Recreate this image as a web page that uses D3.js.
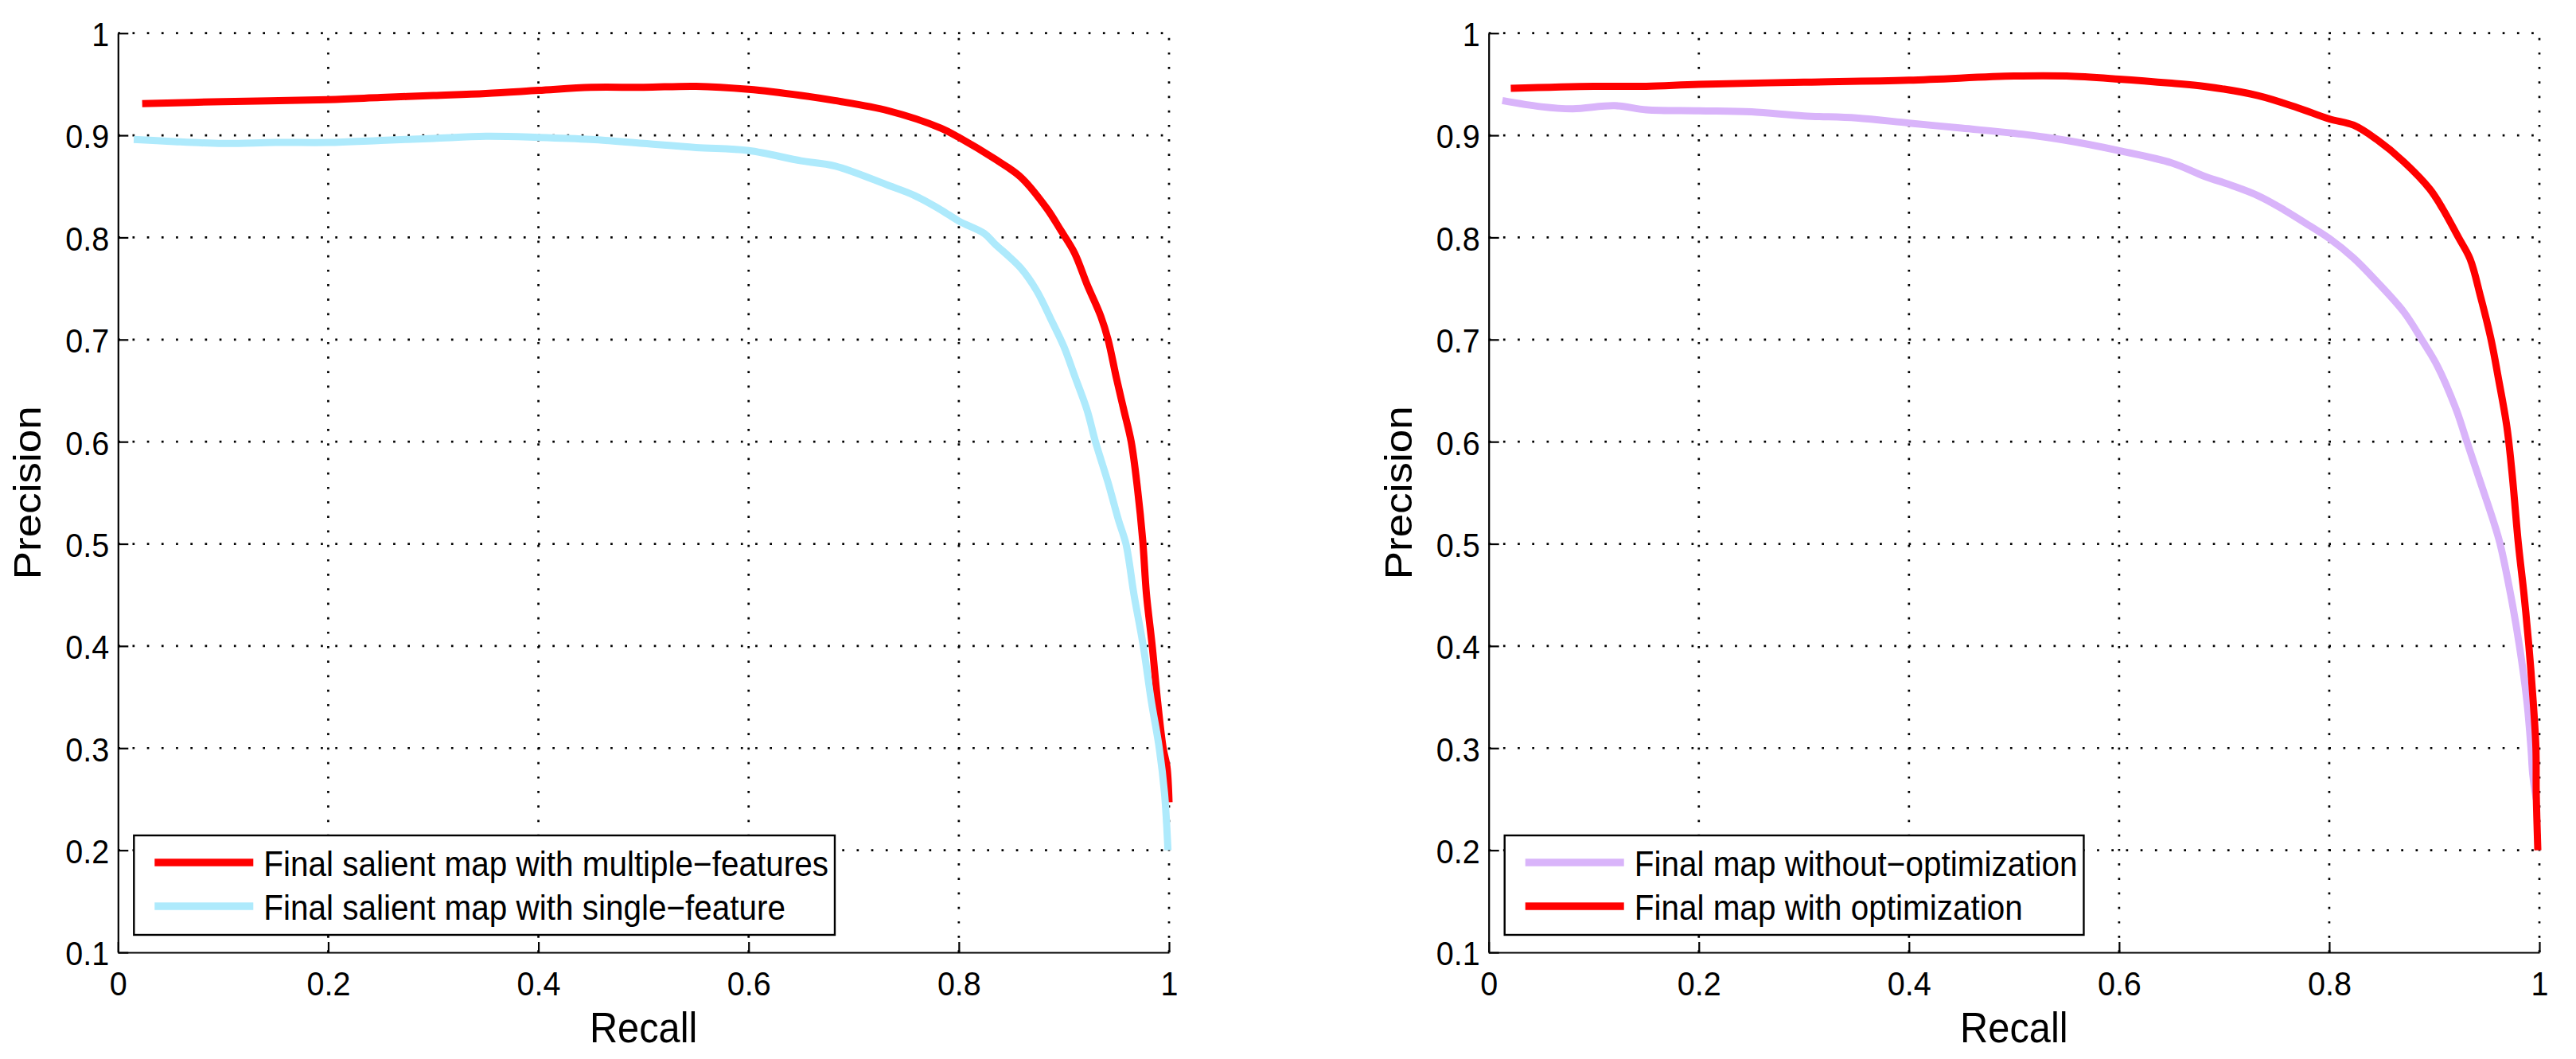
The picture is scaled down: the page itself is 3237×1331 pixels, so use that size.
<!DOCTYPE html>
<html>
<head>
<meta charset="utf-8">
<script src="https://cdn.jsdelivr.net/npm/d3@7"></script>
<style>
  html, body { margin: 0; padding: 0; background: #fff; }
  svg { display: block; }
  text { font-family: "Liberation Sans", Arial, Helvetica, sans-serif; fill: #000; }
</style>
</head>
<body>
<div id="chart"></div>
<script>
// tick values
const recallTicks = [0, 0.2, 0.4, 0.6, 0.8, 1];
const precisionTicks = [0.1, 0.2, 0.3, 0.4, 0.5, 0.6, 0.7, 0.8, 0.9, 1];

// left panel: multiple-features vs single-feature
const multiRecall = [0.023, 0.1, 0.2, 0.25, 0.3, 0.35, 0.4, 0.45, 0.5, 0.55, 0.6, 0.65, 0.682, 0.733, 0.783, 0.8, 0.834, 0.859, 0.884, 0.897, 0.91, 0.922, 0.935, 0.942, 0.95, 0.957, 0.964, 0.97, 0.975, 0.9785, 0.984, 0.989, 0.9944, 0.998, 1.0];
const multiPrecision = [0.931, 0.933, 0.935, 0.937, 0.939, 0.941, 0.944, 0.947, 0.947, 0.948, 0.945, 0.939, 0.934, 0.924, 0.907, 0.898, 0.877, 0.859, 0.828, 0.807, 0.785, 0.754, 0.723, 0.7, 0.662, 0.631, 0.6, 0.554, 0.503, 0.451, 0.4, 0.347, 0.3, 0.282, 0.247];

const singleRecall = [0.015, 0.05, 0.1, 0.15, 0.2, 0.25, 0.3, 0.35, 0.4, 0.45, 0.5, 0.55, 0.6, 0.65, 0.682, 0.733, 0.758, 0.783, 0.8, 0.824, 0.834, 0.859, 0.874, 0.889, 0.9, 0.91, 0.922, 0.93, 0.942, 0.952, 0.959, 0.9667, 0.9755, 0.983, 0.9907, 0.9957, 0.999];
const singlePrecision = [0.896, 0.894, 0.892, 0.893, 0.893, 0.895, 0.897, 0.899, 0.898, 0.896, 0.892, 0.888, 0.885, 0.875, 0.87, 0.851, 0.841, 0.827, 0.816, 0.804, 0.794, 0.77, 0.748, 0.717, 0.693, 0.665, 0.631, 0.6, 0.56, 0.523, 0.5, 0.45, 0.4, 0.347, 0.3, 0.256, 0.2];

// right panel: without vs with optimization
const noOptRecall = [0.013, 0.05, 0.08, 0.12, 0.15, 0.2, 0.25, 0.3, 0.35, 0.4, 0.45, 0.5, 0.55, 0.6, 0.65, 0.681, 0.707, 0.732, 0.757, 0.782, 0.8, 0.823, 0.845, 0.871, 0.888, 0.903, 0.921, 0.931, 0.944, 0.956, 0.9626, 0.9727, 0.981, 0.988, 0.992, 0.9937, 0.997];
const noOptPrecision = [0.934, 0.928, 0.926, 0.929, 0.925, 0.924, 0.923, 0.919, 0.917, 0.912, 0.907, 0.902, 0.895, 0.885, 0.873, 0.86, 0.851, 0.841, 0.827, 0.811, 0.799, 0.78, 0.757, 0.727, 0.7, 0.674, 0.631, 0.6, 0.56, 0.523, 0.5, 0.45, 0.4, 0.347, 0.3, 0.274, 0.25];

const optRecall = [0.021, 0.1, 0.15, 0.2, 0.3, 0.4, 0.5, 0.55, 0.6, 0.65, 0.681, 0.732, 0.77, 0.8, 0.823, 0.845, 0.871, 0.896, 0.908, 0.923, 0.934, 0.944, 0.954, 0.961, 0.969, 0.974, 0.98, 0.9854, 0.99, 0.994, 0.9967, 0.997, 0.998, 0.9985];
const optPrecision = [0.946, 0.948, 0.948, 0.95, 0.952, 0.954, 0.958, 0.958, 0.955, 0.951, 0.948, 0.939, 0.927, 0.916, 0.91, 0.896, 0.874, 0.847, 0.828, 0.8, 0.779, 0.742, 0.7, 0.662, 0.615, 0.569, 0.5, 0.45, 0.4, 0.347, 0.3, 0.256, 0.217, 0.2];

const leftNames = ["Final salient map with multiple\u2212features", "Final salient map with single\u2212feature"];
const rightNames = ["Final map without\u2212optimization", "Final map with optimization"];

const colorMap = {
  multi: "#ff0000",
  single: "#aeeafc",
  noOpt: "#d9b4fa",
  opt: "#ff0000"
};

const W = 3237, H = 1331;
const SQ = 0.92; // picture is slightly squeezed horizontally

const svg = d3.select("#chart").append("svg")
  .attr("width", W)
  .attr("height", H)
  .attr("viewBox", [0, 0, W, H]);

const squeeze = (sel) => {
  sel.each(function() {
    const t = d3.select(this);
    const x = +t.attr("x") || 0;
    const y = +t.attr("y") || 0;
    t.attr("x", 0).attr("y", 0)
      .attr("transform", `translate(${x},${y}) scale(${SQ},1)`);
  });
};

const drawPanel = (left, right, series, names) => {
  const top = 41.7, bottom = 1197;
  const x = d3.scaleLinear().domain([0, 1]).range([left, right]);
  const y = d3.scaleLinear().domain([0.1, 1]).range([bottom, top]);

  const g = svg.append("g");

  // dotted grid
  const grid = g.append("g")
    .attr("stroke", "#000")
    .attr("stroke-width", 2.7)
    .attr("stroke-dasharray", "2.7,15.5");
  grid.selectAll("line.vx")
    .data(recallTicks.filter(d => d > 0))
    .join("line")
    .attr("class", "vx")
    .attr("x1", d => x(d)).attr("x2", d => x(d))
    .attr("y1", y(0.1)).attr("y2", y(1));
  grid.selectAll("line.hy")
    .data(precisionTicks.filter(d => d > 0.1))
    .join("line")
    .attr("class", "hy")
    .attr("x1", x(0)).attr("x2", x(1))
    .attr("y1", d => y(d)).attr("y2", d => y(d));

  // curves
  const line = d3.line()
    .curve(d3.curveCatmullRom.alpha(0.5))
    .x(d => x(d[0]))
    .y(d => y(d[1]));
  series.forEach(s => {
    g.append("path")
      .datum(d3.zip(s.recall, s.precision))
      .attr("fill", "none")
      .attr("stroke", colorMap[s.key])
      .attr("stroke-width", 9)
      .attr("stroke-linejoin", "round")
      .attr("d", line);
  });

  // axes
  const yAxis = g.append("g")
    .attr("transform", `translate(${left},0)`)
    .call(d3.axisLeft(y).tickValues(precisionTicks).tickFormat(d => String(d))
      .tickSizeInner(-13).tickSizeOuter(0).tickPadding(11));
  const xAxis = g.append("g")
    .attr("transform", `translate(0,${bottom})`)
    .call(d3.axisBottom(x).tickValues(recallTicks).tickFormat(d => String(d))
      .tickSizeInner(-13).tickSizeOuter(0).tickPadding(23.5));

  [yAxis, xAxis].forEach(ax => {
    ax.attr("font-size", 43).attr("font-family", null);
    ax.selectAll("path, line").attr("stroke", "#000").attr("stroke-width", 2.2);
    ax.selectAll("text").attr("fill", "#000");
  });
  yAxis.selectAll("text").attr("dy", "0.37em").call(squeeze);
  xAxis.selectAll("text").call(squeeze);

  // axis titles
  g.append("text")
    .attr("text-anchor", "middle")
    .attr("font-size", 53)
    .attr("transform", `translate(${(left + right) / 2},1310) scale(${SQ},1)`)
    .text("Recall");
  g.append("text")
    .attr("text-anchor", "middle")
    .attr("font-size", 53)
    .attr("transform", `translate(${left - 97},${(top + bottom) / 2}) scale(${SQ},1) rotate(-90)`)
    .text("Precision");

  // legend
  const lx = left + 20, ly = 1050, lh = 125;
  const leg = g.append("g");
  const box = leg.append("rect")
    .attr("x", lx).attr("y", ly)
    .attr("height", lh)
    .attr("fill", "#fff")
    .attr("stroke", "#000")
    .attr("stroke-width", 2.4);
  let maxW = 0;
  series.forEach((s, i) => {
    const yy = ly + 34 + i * 55;
    leg.append("line")
      .attr("x1", lx + 26).attr("x2", lx + 150)
      .attr("y1", yy).attr("y2", yy)
      .attr("stroke", colorMap[s.key])
      .attr("stroke-width", 9.3);
    const t = leg.append("text")
      .attr("font-size", 44)
      .attr("transform", `translate(${lx + 163},${yy + 17}) scale(${SQ},1)`)
      .text(names[i]);
    maxW = Math.max(maxW, t.node().getComputedTextLength() * SQ);
  });
  box.attr("width", 163 + maxW + 8);
};

drawPanel(148.3, 1469, [
  { key: "multi", recall: multiRecall, precision: multiPrecision },
  { key: "single", recall: singleRecall, precision: singlePrecision }
], leftNames);

drawPanel(1870.7, 3191, [
  { key: "noOpt", recall: noOptRecall, precision: noOptPrecision },
  { key: "opt", recall: optRecall, precision: optPrecision }
], rightNames);
</script>
</body>
</html>
